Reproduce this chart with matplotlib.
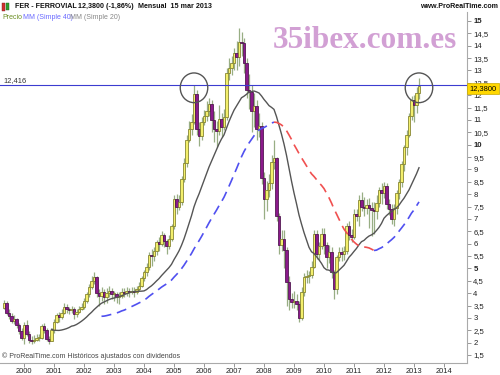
import matplotlib
matplotlib.use("Agg")
import matplotlib.pyplot as plt
from matplotlib.patches import Ellipse, Rectangle
import numpy as np
import pandas as pd

plt.rcParams["font.family"] = ["Liberation Sans", "DejaVu Sans"]

# ---------------- data (monthly, May 1999 - Mar 2013) ----------------
first_open = 3.40
c1999 = [3.62, 3.20, 3.08, 2.88, 2.95, 2.72, 2.45, 2.20]
h1999 = [3.72, 3.70, 3.35, 3.20, 3.10, 3.00, 2.80, 2.60]
l1999 = [3.35, 3.10, 2.95, 2.80, 2.75, 2.60, 2.35, 2.10]
c2000 = [2.70, 2.35, 2.10, 2.05, 2.12, 2.20, 2.20, 2.68, 2.52, 2.15, 2.08, 2.50]
h2000 = [2.85, 2.90, 2.45, 2.25, 2.30, 2.35, 2.35, 2.75, 2.80, 2.60, 2.25, 2.60]
l2000 = [1.95, 2.25, 2.00, 1.95, 1.98, 2.05, 2.08, 2.15, 2.40, 2.05, 1.95, 2.05]
c2001 = [2.85, 3.10, 3.05, 3.20, 3.45, 3.35, 3.30, 3.35, 3.15, 3.25, 3.35, 3.45]
h2001 = [2.95, 3.20, 3.25, 3.35, 3.60, 3.55, 3.45, 3.50, 3.45, 3.35, 3.50, 3.60]
l2001 = [2.40, 2.80, 2.85, 2.95, 3.15, 3.20, 3.15, 3.20, 2.95, 3.05, 3.20, 3.30]
c2002 = [3.70, 3.95, 4.25, 4.50, 4.65, 4.00, 3.90, 4.05, 3.85, 4.00, 4.10, 3.95]
h2002 = [3.80, 4.05, 4.35, 4.70, 4.85, 4.70, 4.15, 4.25, 4.15, 4.20, 4.30, 4.20]
l2002 = [3.35, 3.60, 3.85, 4.15, 4.35, 3.85, 3.50, 3.70, 3.55, 3.60, 3.85, 3.75]
c2003 = [3.95, 3.85, 3.90, 4.05, 4.00, 4.10, 4.05, 4.10, 4.05, 4.15, 4.30, 4.60]
h2003 = [4.10, 4.05, 4.05, 4.20, 4.20, 4.25, 4.20, 4.25, 4.25, 4.30, 4.45, 4.70]
l2003 = [3.70, 3.60, 3.55, 3.80, 3.85, 3.90, 3.85, 3.95, 3.85, 3.95, 4.10, 4.25]
c2004 = [4.85, 5.05, 5.55, 5.50, 5.70, 6.05, 6.00, 6.35, 6.10, 5.90, 6.20, 6.70]
h2004 = [4.95, 5.20, 5.65, 5.80, 5.85, 6.15, 6.25, 6.50, 6.45, 6.20, 6.35, 6.80]
l2004 = [4.50, 4.70, 4.95, 5.10, 5.30, 5.55, 5.70, 5.90, 5.85, 5.60, 5.80, 6.10]
c2005 = [7.80, 7.50, 7.70, 8.60, 9.25, 10.20, 10.65, 10.90, 12.05, 10.65, 10.35, 10.90]
h2005 = [7.95, 8.00, 7.95, 8.75, 9.45, 10.40, 10.95, 11.25, 12.40, 12.20, 10.90, 11.10]
l2005 = [6.60, 7.20, 7.35, 7.55, 8.50, 9.10, 10.10, 10.40, 10.85, 10.40, 9.95, 10.20]
c2006 = [11.15, 11.35, 11.65, 11.00, 10.65, 10.55, 11.05, 10.70, 11.10, 12.90, 13.10, 13.30]
h2006 = [11.40, 11.75, 11.90, 11.80, 11.35, 10.95, 11.60, 11.30, 11.45, 13.10, 13.50, 13.60]
l2006 = [10.80, 10.95, 11.15, 10.50, 10.10, 9.90, 10.40, 10.30, 10.60, 11.00, 12.60, 12.80]
c2007 = [13.70, 13.55, 14.15, 14.10, 13.30, 12.20, 12.15, 11.35, 11.55, 10.65, 10.75, 8.65]
h2007 = [13.90, 14.20, 14.70, 14.55, 14.30, 13.50, 12.85, 12.40, 12.10, 11.80, 11.30, 10.90]
l2007 = [13.00, 13.00, 13.20, 13.60, 12.90, 11.90, 11.45, 10.50, 10.70, 10.20, 10.30, 8.40]
c2008 = [7.80, 8.15, 8.45, 9.30, 9.45, 7.10, 5.95, 6.20, 5.75, 4.45, 3.75, 3.65]
h2008 = [8.90, 8.55, 8.80, 9.60, 10.20, 9.50, 7.25, 6.55, 6.55, 5.85, 4.70, 4.00]
l2008 = [7.00, 7.30, 7.90, 8.20, 9.00, 6.90, 5.60, 5.70, 5.00, 3.50, 3.30, 3.40]
c2009 = [3.70, 3.55, 3.00, 4.05, 4.65, 4.70, 4.75, 5.05, 6.40, 5.60, 5.90, 6.40]
h2009 = [4.10, 3.95, 3.70, 4.25, 4.80, 4.95, 4.90, 5.30, 6.55, 6.55, 6.05, 6.65]
l2009 = [3.40, 3.30, 2.85, 2.90, 3.90, 4.40, 4.40, 4.60, 5.00, 5.40, 5.35, 5.80]
c2010 = [5.95, 5.45, 5.65, 4.85, 4.15, 5.45, 5.65, 5.60, 5.70, 6.70, 6.35, 6.25]
h2010 = [6.65, 6.05, 5.95, 5.85, 4.95, 5.55, 5.85, 5.85, 5.90, 6.85, 6.90, 6.60]
l2010 = [5.60, 5.00, 5.20, 4.60, 3.75, 3.95, 5.30, 5.30, 5.35, 5.60, 6.15, 6.05]
c2011 = [7.20, 7.10, 7.75, 7.50, 7.45, 7.55, 7.45, 7.35, 7.30, 7.65, 8.15, 8.05]
h2011 = [7.40, 7.40, 7.95, 8.10, 7.90, 7.80, 7.85, 7.70, 7.70, 7.95, 8.30, 8.45]
l2011 = [6.20, 6.90, 6.70, 7.30, 7.10, 7.20, 6.65, 6.30, 6.40, 7.00, 7.50, 7.60]
c2012 = [8.35, 7.60, 7.40, 7.00, 7.45, 8.05, 8.50, 9.20, 9.90, 10.40, 11.15, 11.80]
h2012 = [8.50, 8.45, 7.80, 7.60, 7.60, 8.15, 8.60, 9.35, 10.00, 10.60, 11.30, 11.95]
l2012 = [7.85, 7.40, 7.15, 6.80, 6.70, 7.20, 7.80, 8.30, 8.95, 9.60, 10.30, 11.00]
c2013 = [11.60, 12.10, 12.38]
h2013 = [12.00, 12.35, 12.70]
l2013 = [10.90, 11.30, 11.85]

years = [2000, 2001, 2002, 2003, 2004, 2005, 2006, 2007,
         2008, 2009, 2010, 2011, 2012, 2013, 2014]
first_month_offset = 8          # May 1999 -> Jan 2000 is 8 candles later
level_line = 12.416
y_ticks = [1.5 + 0.5 * k for k in range(28)]
bold_ticks = [5, 10, 15]

closes = np.array(c1999 + c2000 + c2001 + c2002 + c2003 + c2004 + c2005 +
                  c2006 + c2007 + c2008 + c2009 + c2010 + c2011 + c2012 + c2013)
highs = np.array(h1999 + h2000 + h2001 + h2002 + h2003 + h2004 + h2005 +
                 h2006 + h2007 + h2008 + h2009 + h2010 + h2011 + h2012 + h2013)
lows = np.array(l1999 + l2000 + l2001 + l2002 + l2003 + l2004 + l2005 +
                l2006 + l2007 + l2008 + l2009 + l2010 + l2011 + l2012 + l2013)
opens = np.concatenate([[first_open], closes[:-1]])
highs = np.maximum(highs, np.maximum(opens, closes))
lows = np.minimum(lows, np.minimum(opens, closes))
idx = np.arange(len(closes))

ma20 = pd.Series(closes).rolling(20).mean().values
ma40 = pd.Series(closes).rolling(40).mean().values

# ---------------- figure ----------------
W, H = 500, 375
fig = plt.figure(figsize=(5, 3.75), dpi=100)
fig.patch.set_facecolor("white")
ax_l, ax_r, ax_t, ax_b = 0, 467, 12, 363
ax = fig.add_axes([ax_l / W, 1 - ax_b / H, (ax_r - ax_l) / W, (ax_b - ax_t) / H])

# pixel mapping: price 15 at y=21, 24.74 px per unit; candle i at x=4+2.5*i
ppu = 24.74
ax.set_ylim(15 - (ax_b - 21) / ppu, 15 + (21 - ax_t) / ppu)
ax.set_xlim((ax_l - 4) / 2.5, (ax_r - 4) / 2.5)

# candles
up = closes >= opens
wick_c = "#98ae84"
ax.vlines(idx, lows, highs, color=wick_c, lw=0.9, zorder=2)
body_w = 0.86
for i in idx:
    lo = min(opens[i], closes[i])
    hgt = max(abs(closes[i] - opens[i]), 0.04)
    if up[i]:
        fc, ec = "#f3ef6c", "#7e7e28"
    else:
        fc, ec = "#8b1a8b", "#4a104a"
    ax.add_patch(Rectangle((i - body_w / 2, lo), body_w, hgt, facecolor=fc,
                           edgecolor=ec, lw=0.55, zorder=3))

# MA 20 (solid gray)
ax.plot(idx, ma20, color="#555555", lw=1.0, zorder=4)

# MA 40 dashed, blue rising / red falling
valid = np.where(~np.isnan(ma40))[0]
d = np.diff(ma40[valid])
rising = d >= 0
start = 0
for k in range(1, len(rising) + 1):
    if k == len(rising) or rising[k] != rising[start]:
        seg = valid[start:k + 1]
        col = "#5050f0" if rising[start] else "#f05050"
        ax.plot(seg, ma40[seg], color=col, lw=1.2, dashes=(6, 3.5), zorder=4)
        start = k

# horizontal level line
ax.axhline(level_line, color="#3c3cd0", lw=0.8, zorder=5)

# circles around the two peaks
peak1 = int(np.argmax(highs[:85]))
peak2 = len(closes) - 1
for p in (peak1, peak2):
    ax.add_patch(Ellipse((p, 12.3), 11.0, 1.2, fill=False, edgecolor="#555555",
                         lw=1.0, zorder=6))

# axes styling
for s in ("left", "top"):
    ax.spines[s].set_visible(False)
for s in ("right", "bottom"):
    ax.spines[s].set_color("#aaaaaa")
    ax.spines[s].set_linewidth(0.8)
ax.yaxis.tick_right()
ax.set_yticks(y_ticks)
ax.set_yticklabels([("%g" % v).replace(".", ",") for v in y_ticks])
ax.tick_params(axis="y", direction="out", length=3, width=0.6, color="#888888",
               labelsize=5.6, pad=1.5, labelcolor="#222222")
for tick, v in zip(ax.yaxis.get_major_ticks(), y_ticks):
    w = "bold" if v in bold_ticks else "normal"
    tick.label1.set_fontweight(w)
    tick.label2.set_fontweight(w)
xt = [first_month_offset + 12 * (y - 2000) for y in years]
ax.set_xticks(xt)
ax.set_xticklabels([str(y) for y in years])
ax.tick_params(axis="x", direction="out", length=3, width=0.6, color="#888888",
               labelsize=5.4, pad=0.8, labelcolor="#222222")

# price box on axis
fig.text(483 / W, 1 - 88.5 / H, "12,3800", fontsize=5.4, ha="center", va="center",
         color="black", zorder=10,
         bbox=dict(boxstyle="square,pad=0.3", fc="#ffd700", ec="#c8a800", lw=0.5))
fig.text(3 / W, 1 - 81 / H, "12,416", fontsize=5.4, color="#333333",
         ha="left", va="center")

# watermark
fig.text(273 / W, 1 - 48.5 / H, "35ibex.com.es", fontsize=22.5,
         family="Liberation Serif", fontweight="bold", color="#d2a0d4",
         ha="left", va="baseline")

# header
hy = 1 - 6.5 / H
fig.add_artist(Rectangle((2 / W, 1 - 11 / H), 2.5 / W, 8 / H, transform=fig.transFigure,
                         fc="#d03030", ec="#802020", lw=0.3))
fig.add_artist(Rectangle((6 / W, 1 - 10 / H), 2.5 / W, 7 / H, transform=fig.transFigure,
                         fc="#30a030", ec="#206020", lw=0.3))
hs = 5.1
fig.text(15 / W, hy, "FER - FERROVIAL", fontsize=hs, fontweight="bold",
         ha="left", va="center", color="#111111")
fig.text(78 / W, hy, "12,3800 (-1,86%)", fontsize=hs, fontweight="bold",
         ha="left", va="center", color="#111111")
fig.text(138 / W, hy, "Mensual  15 mar 2013", fontsize=hs, fontweight="bold",
         ha="left", va="center", color="#111111")
fig.text(498 / W, hy, "www.ProRealTime.com", fontsize=hs, fontweight="bold",
         ha="right", va="center", color="#111111")

ly = 1 - 17.5 / H
fig.text(2 / W, ly, "Precio", fontsize=5.0, color="#6b8e23", ha="left", va="center")
fig.text(23 / W, ly, "MM (Simple 40)", fontsize=5.0, color="#6a6aff", ha="left", va="center")
fig.text(70 / W, ly, "MM (Simple 20)", fontsize=5.0, color="#888888", ha="left", va="center")

fig.text(2 / W, 1 - 356 / H, "\u00a9 ProRealTime.com Históricos ajustados con dividendos",
         fontsize=5.0, color="#444444", ha="left", va="center")

fig.savefig("out.png", dpi=100)
